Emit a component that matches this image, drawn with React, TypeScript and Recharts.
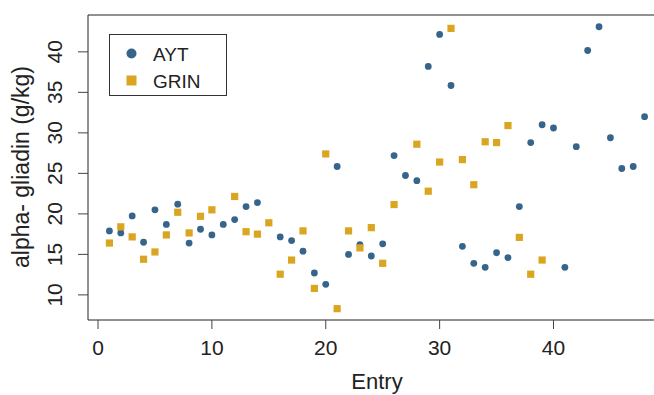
import { ScatterChart, Scatter, XAxis, YAxis, ReferenceArea, Legend } from 'recharts';

// AYT entries (no entry 15)
const aytEntry = [
  1, 2, 3, 4, 5, 6, 7, 8, 9, 10, 11, 12, 13, 14,
  16, 17, 18, 19, 20, 21, 22, 23, 24, 25, 26, 27, 28, 29, 30, 31, 32,
  33, 34, 35, 36, 37, 38, 39, 40, 41, 42, 43, 44, 45, 46, 47, 48,
];
const aytValue = [
  17.9, 17.65, 19.75, 16.5, 20.5, 18.7, 21.2, 16.4, 18.1, 17.4, 18.7, 19.3, 20.9, 21.4,
  17.16, 16.7, 15.4, 12.7, 11.3, 25.85, 15.0, 16.2, 14.8, 16.3, 27.2, 24.74, 24.1, 38.2, 42.15, 35.85, 16.0,
  13.9, 13.4, 15.2, 14.6, 20.9, 28.8, 31.0, 30.6, 13.4, 28.3, 40.17, 43.1, 29.4, 25.6, 25.85, 32.0,
];

// GRIN entries (no 11, no 27)
const grinEntry = [
  1, 2, 3, 4, 5, 6, 7, 8, 9, 10,
  12, 13, 14, 15, 16, 17, 18, 19, 20, 21, 22, 23, 24, 25, 26,
  28, 29, 30, 31, 32, 33, 34, 35, 36, 37, 38, 39,
];
const grinValue = [
  16.4, 18.4, 17.16, 14.4, 15.3, 17.4, 20.2, 17.65, 19.7, 20.5,
  22.15, 17.8, 17.5, 18.9, 12.55, 14.3, 17.9, 10.8, 27.4, 8.3, 17.9, 15.8, 18.3, 13.9, 21.15,
  28.6, 22.8, 26.4, 42.9, 26.7, 23.6, 28.9, 28.8, 30.9, 17.1, 12.55, 14.3,
];

const xTicks = [0, 10, 20, 30, 40];
const yTicks = [10, 15, 20, 25, 30, 35, 40];

const BLUE = '#36648B';
const GOLD = '#DAA520';
const FONT = '"Liberation Sans", Arial, sans-serif';

const xDomain = [-0.88, 49.88];
const yDomain = [6.9, 44.55];

const aytData = aytEntry.map((e, i) => ({ x: e, y: aytValue[i] }));
const grinData = grinEntry.map((e, i) => ({ x: e, y: grinValue[i] }));

const Dot = (props: any) => <circle cx={props.cx} cy={props.cy} r={3.4} fill={BLUE} />;
const Sq = (props: any) => (
  <rect x={props.cx - 3.6} y={props.cy - 3.6} width={7.2} height={7.2} fill={GOLD} />
);

// y tick labels are drawn vertically, like R's default las=0
const YTick = ({ y, payload }: any) => (
  <text
    transform={`translate(62,${y}) rotate(-90)`}
    textAnchor="middle"
    fontSize={21}
    fontFamily={FONT}
    fill="#222"
  >
    {payload.value}
  </text>
);

const XTick = ({ x, payload }: any) => (
  <text x={x} y={355} textAnchor="middle" fontSize={21} fontFamily={FONT} fill="#222">
    {payload.value}
  </text>
);

const LegendBox = () => (
  <svg width={119} height={63}>
    <rect x={0.5} y={0.5} width={117} height={61} fill="#fff" stroke="#333" />
    <circle cx={22.5} cy={19.5} r={5} fill={BLUE} />
    <text x={44} y={27} fontSize={19} fontFamily={FONT} fill="#222">AYT</text>
    <rect x={17.5} y={41.5} width={10} height={10} fill={GOLD} />
    <text x={44} y={54} fontSize={19} fontFamily={FONT} fill="#222">GRIN</text>
  </svg>
);

const App = () => {
  return (
    <div style={{ position: 'fixed', left: 0, top: 0, width: 654, height: 395, overflow: 'hidden', background: '#fff' }}>
      <ScatterChart width={680} height={395} margin={{ top: 15, right: 14, bottom: 0, left: 0 }}>
        <XAxis
          type="number"
          dataKey="x"
          domain={xDomain}
          ticks={xTicks}
          allowDataOverflow
          height={75}
          axisLine={false}
          tickLine={{ stroke: '#444' }}
          tickSize={9}
          tick={<XTick />}
        />
        <YAxis
          type="number"
          dataKey="y"
          domain={yDomain}
          ticks={yTicks}
          allowDataOverflow
          width={88}
          axisLine={false}
          tickLine={{ stroke: '#444' }}
          tickSize={10}
          tick={<YTick />}
        />
        <ReferenceArea
          x1={xDomain[0]}
          x2={xDomain[1]}
          y1={yDomain[0]}
          y2={yDomain[1]}
          fill="none"
          stroke="#222"
          strokeWidth={1}
          fillOpacity={0}
        />
        <Legend
          layout="horizontal"
          verticalAlign="middle"
          align="center"
          content={<LegendBox />}
          wrapperStyle={{ position: 'absolute', left: 109, top: 34, width: 119, height: 63 }}
        />
        <Scatter name="AYT" data={aytData} shape={<Dot />} isAnimationActive={false} />
        <Scatter name="GRIN" data={grinData} shape={<Sq />} isAnimationActive={false} />
        <text
          transform="translate(28.5,167) rotate(-90)"
          textAnchor="middle"
          fontSize={23}
          fontFamily={FONT}
          fill="#222"
        >
          alpha- gliadin (g/kg)
        </text>
        <text x={377} y={389} textAnchor="middle" fontSize={22} fontFamily={FONT} fill="#222">
          Entry
        </text>
      </ScatterChart>
    </div>
  );
};

export default App;
